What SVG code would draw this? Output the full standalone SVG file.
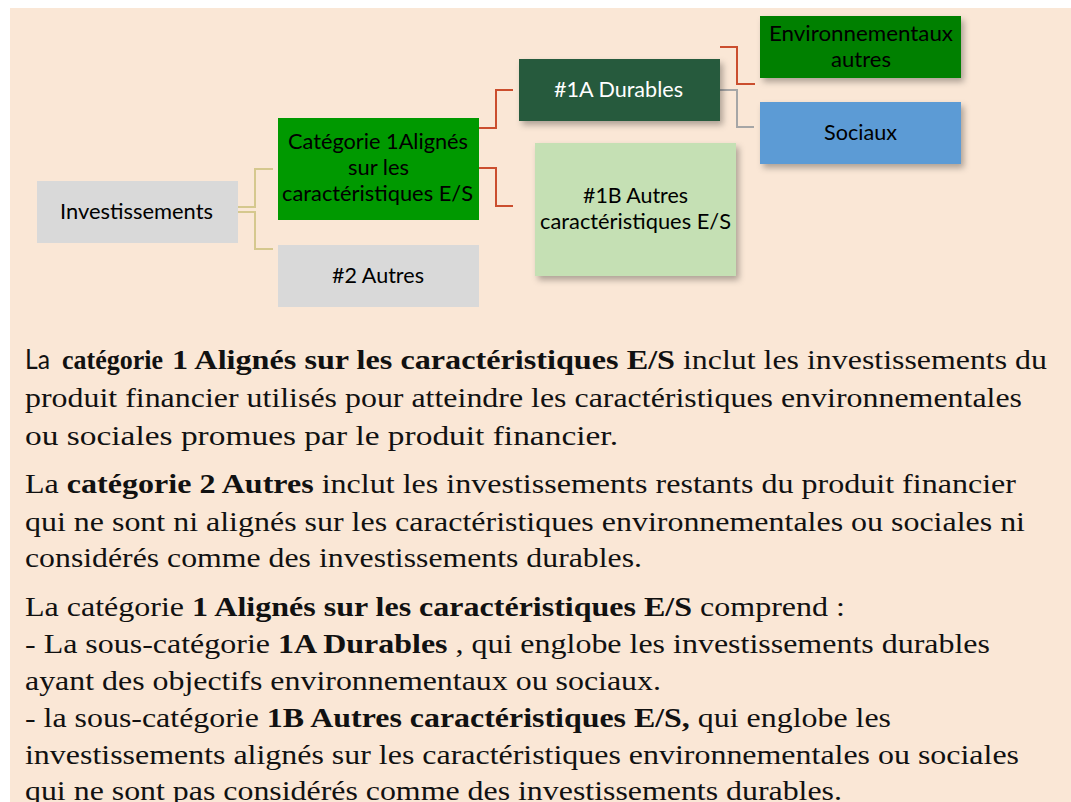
<svg xmlns="http://www.w3.org/2000/svg" width="1071" height="802" viewBox="0 0 1071 802">
  <style>
    .box-text { font-family: Lato, "Open Sans", sans-serif; font-size: 22px; fill: #000; }
    .white { fill: #fff; }
    .body { font-family: 'Liberation Serif', 'Times New Roman', Times, serif; font-size: 28px; fill: #111; }
    .b { font-weight: bold; }
    .conn-tan { fill: none; stroke: #D5C88E; stroke-width: 2; }
    .conn-red { fill: none; stroke: #CB4E2E; stroke-width: 2; }
    .conn-gray { fill: none; stroke: #A6A6A6; stroke-width: 2; }
  </style>
  <defs>
    <filter id="shadow" x="-10%" y="-10%" width="130%" height="140%">
      <feDropShadow dx="3" dy="4" stdDeviation="3" flood-color="#000" flood-opacity="0.3"/>
    </filter>
  </defs>

  <rect x="0" y="0" width="1071" height="802" fill="#ffffff"/>
  <rect x="10" y="8" width="1061" height="794" fill="#FAE7D6"/>

  <g id="connectors">
    <polyline class="conn-tan" points="238,207 255,207 255,169 273,169"/>
    <polyline class="conn-tan" points="238,212 255,212 255,249 273,249"/>
    <polyline class="conn-red" points="479,128 496,128 496,90 513,90"/>
    <polyline class="conn-red" points="479,168 496,168 496,206 513,206"/>
    <polyline class="conn-red" points="720,47 737,47 737,84 755,84"/>
    <polyline class="conn-gray" points="720,90 737,90 737,127 754,127"/>
  </g>

  <g id="node-investissements">
    <rect x="37" y="181" width="201" height="62" fill="#D9D9D9"/>
    <text class="box-text" x="60" y="219" textLength="153" lengthAdjust="spacingAndGlyphs">Investissements</text>
  </g>

  <g id="node-categorie1">
    <rect x="278" y="118" width="201" height="102" fill="#009900"/>
    <text class="box-text" x="288" y="149" textLength="180" lengthAdjust="spacingAndGlyphs">Catégorie 1Alignés</text>
    <text class="box-text" x="348" y="175" textLength="61" lengthAdjust="spacingAndGlyphs">sur les</text>
    <text class="box-text" x="282" y="201" textLength="191" lengthAdjust="spacingAndGlyphs">caractéristiques E/S</text>
  </g>

  <g id="node-autres2">
    <rect x="278" y="245" width="201" height="62" fill="#D9D9D9"/>
    <text class="box-text" x="332" y="283" textLength="92" lengthAdjust="spacingAndGlyphs">#2 Autres</text>
  </g>

  <g id="node-1a">
    <rect x="519" y="59" width="201" height="62" fill="#255A3C" filter="url(#shadow)"/>
    <text class="box-text white" x="554" y="97" textLength="129" lengthAdjust="spacingAndGlyphs">#1A Durables</text>
  </g>

  <g id="node-1b">
    <rect x="535" y="143" width="201" height="133" fill="#C5E0B4" filter="url(#shadow)"/>
    <text class="box-text" x="583" y="203" textLength="105" lengthAdjust="spacingAndGlyphs">#1B Autres</text>
    <text class="box-text" x="540" y="229" textLength="191" lengthAdjust="spacingAndGlyphs">caractéristiques E/S</text>
  </g>

  <g id="node-env">
    <rect x="760" y="16" width="201" height="62" fill="#008000" filter="url(#shadow)"/>
    <text class="box-text" x="769" y="41" textLength="184" lengthAdjust="spacingAndGlyphs">Environnementaux</text>
    <text class="box-text" x="831" y="67" textLength="60" lengthAdjust="spacingAndGlyphs">autres</text>
  </g>

  <g id="node-sociaux">
    <rect x="760" y="102" width="201" height="62" fill="#5B9BD5" filter="url(#shadow)"/>
    <text class="box-text" x="824" y="140" textLength="73" lengthAdjust="spacingAndGlyphs">Sociaux</text>
  </g>

  <g id="body-text">
    <text x="25" y="369" font-family="Lato, 'Open Sans', sans-serif" font-weight="400" font-size="26" fill="#111" textLength="25" lengthAdjust="spacingAndGlyphs">La</text>
    <text class="body b" x="62" y="369" font-size="20" textLength="101" lengthAdjust="spacingAndGlyphs">catégorie</text>
    <text class="body b" x="172" y="369" textLength="503" lengthAdjust="spacingAndGlyphs">1 Alignés sur les caractéristiques E/S</text>
    <text class="body" x="683" y="369" textLength="364" lengthAdjust="spacingAndGlyphs">inclut les investissements du</text>

    <text class="body" x="25" y="407" textLength="997" lengthAdjust="spacingAndGlyphs">produit financier utilisés pour atteindre les caractéristiques environnementales</text>
    <text class="body" x="25" y="445" textLength="593" lengthAdjust="spacingAndGlyphs">ou sociales promues par le produit financier.</text>

    <text class="body" x="25" y="493" textLength="991" lengthAdjust="spacingAndGlyphs">La <tspan class="b">catégorie 2 Autres</tspan> inclut les investissements restants du produit financier</text>
    <text class="body" x="25" y="531" textLength="1000" lengthAdjust="spacingAndGlyphs">qui ne sont ni alignés sur les caractéristiques environnementales ou sociales ni</text>
    <text class="body" x="25" y="567" textLength="617" lengthAdjust="spacingAndGlyphs">considérés comme des investissements durables.</text>

    <text class="body" x="25" y="616" textLength="820" lengthAdjust="spacingAndGlyphs">La catégorie <tspan class="b">1 Alignés sur les caractéristiques E/S</tspan> comprend :</text>
    <text class="body" x="25" y="653" textLength="965" lengthAdjust="spacingAndGlyphs">- La sous-catégorie <tspan class="b">1A Durables</tspan> , qui englobe les investissements durables</text>
    <text class="body" x="25" y="690" textLength="636" lengthAdjust="spacingAndGlyphs">ayant des objectifs environnementaux ou sociaux.</text>
    <text class="body" x="25" y="727" textLength="866" lengthAdjust="spacingAndGlyphs">- la sous-catégorie <tspan class="b">1B Autres caractéristiques E/S,</tspan> qui englobe les</text>
    <text class="body" x="25" y="764" textLength="994" lengthAdjust="spacingAndGlyphs">investissements alignés sur les caractéristiques environnementales ou sociales</text>
    <text class="body" x="25" y="800" textLength="817" lengthAdjust="spacingAndGlyphs">qui ne sont pas considérés comme des investissements durables.</text>
  </g>
</svg>
